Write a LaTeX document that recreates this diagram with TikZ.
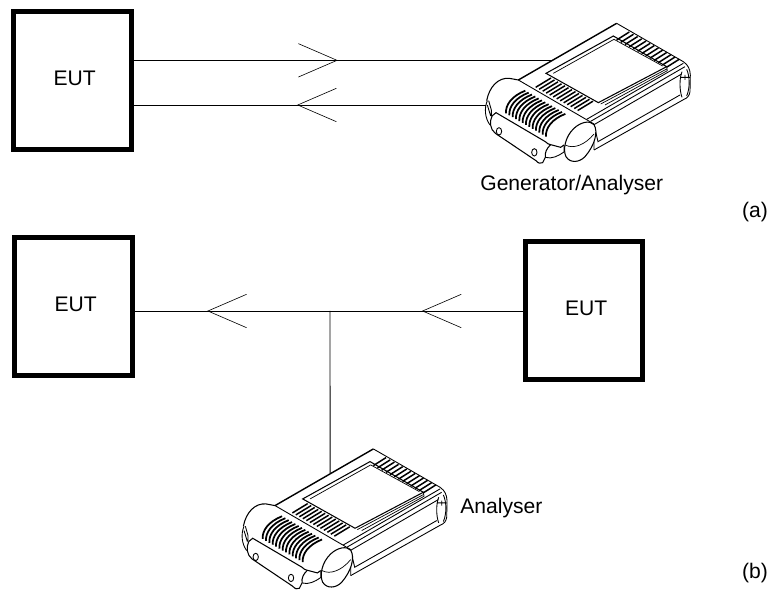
\documentclass[tikz,border=0pt]{standalone}
\usepackage{fontspec}
\setmainfont{Liberation Sans}
\usetikzlibrary{arrows.meta,decorations.markings}

\tikzset{
	eut/.style={draw, rectangle, line width=3.1pt, minimum width=117.5*.02cm, minimum height=137.5*.02cm, inner sep=0pt, text depth=2pt, execute at begin node={\hspace{2.5pt}}, font=\fontsize{12}{14}\selectfont},
	lab/.style={inner sep=0pt, font=\fontsize{12}{14}\selectfont},
	wire/.style={line width=.55pt},
	barb at/.style={postaction=decorate, decoration={markings, mark=at position #1 with {\arrow[line width=.35pt]{Straight Barb[length=22pt, width=19pt]}}}},
	device/.pic={
		\coordinate (-top) at (245,91);
		\coordinate (-bot) at (48,225);
		\coordinate (-edge) at (310,54);
		% body
		\draw[line width=.8pt] (145,150) -- (440,-20);
		\draw[line width=.5pt] (440,-20) -- (640,95) .. controls (655,105) and (660,118) .. (661,135) -- (660,185) .. controls (658,198) and (652,204) .. (642,208) -- (372,360);
		\draw[line width=.5pt] (350,268) -- (640,100) (362,274) -- (645,110) (372,284) -- (635,132);
		\draw[line width=.5pt] (372,284) -- (384,335) -- (630,195) (372,290) -- (372,360);
		\draw[line width=.5pt] (636,125) .. controls (628,145) and (628,180) .. (636,202) (650,118) .. controls (660,140) and (660,175) .. (650,198) (632,142) -- (660,142) (645,135) -- (645,150);
		% screen
		\draw[line width=.6pt] (228,130) -- (430,18) -- (590,110) -- (385,218) -- cycle;
		\draw[line width=.4pt] (250,130) -- (432,28) -- (578,108) (392,222) -- (592,116) (405,225) -- (592,122) -- (590,110);
		% vents
		\foreach \k in {0,...,12} {
			\draw[line width=.85pt] (440+12.5*\k,30+6.8*\k) -- ++(38,-24);
			\draw[line width=.85pt] (197+10.5*\k,172+5.8*\k) -- ++(46,-28);
		}
		% roller
		\draw[line width=.5pt] (145,150) -- (372,282);
		\draw[line width=.6pt] (50,212) .. controls (58,170) and (85,142) .. (118,145) -- (145,150);
		\foreach \k in {0,...,12} {
			\draw[line width=1pt] (166+10*\k,182+5.8*\k) .. controls (125+10*\k,198+5.8*\k) and (106+10*\k,225+5.8*\k) .. (108+10*\k,250+5.8*\k);
		}
		% clip
		\draw[line width=.5pt] (52,212) .. controls (42,235) and (45,265) .. (60,285);
		\draw[line width=.5pt] (56,212) -- (64,240) -- (64,258) (52,225) -- (62,258);
		\draw[line width=.6pt] (66,258) -- (78,248) -- (226,335) .. controls (232,340) and (236,344) .. (242,344) -- (272,352) -- (282,345);
		\draw[line width=.6pt] (66,258) .. controls (58,275) and (60,298) .. (76,310) -- (198,392) .. controls (205,400) and (212,402) .. (218,398) -- (226,382) .. controls (224,368) and (230,355) .. (242,344);
		\draw[line width=.5pt] (226,382) .. controls (245,388) and (265,378) .. (282,366) -- (282,345);
		\draw[line width=.5pt] (87,304) ellipse (8 and 11) (193,367) ellipse (8 and 11);
		% end cap
		\draw[fill=white, line width=.6pt] (372,284) .. controls (385,305) and (375,345) .. (345,380) .. controls (328,398) and (300,400) .. (288,380) .. controls (278,360) and (285,320) .. (312,295) .. controls (332,276) and (360,270) .. (372,284);
		\draw[line width=.4pt] (286,345) .. controls (310,358) and (345,345) .. (372,312);
	}
}

\begin{document}
\begin{tikzpicture}[x=.02cm,y=-.02cm]
	\useasboundingbox (0,0) rectangle (775,601);

	\node[eut] (eutA) at (72.5,80.5) {EUT};
	\pic[scale=1/3] (gen) at (470,30) {device};
	\node[lab, anchor=west] (genlab) at (480,185) {Generator/Analyser};
	\node[lab] (parta) at (755,212) {(a)};

	\draw[wire, barb at=.488] (eutA.east |- gen-top) -- (gen-top);
	\draw[wire, barb at=.537] (gen-bot) -- (eutA.east |- gen-bot);

	\node[eut] (eutL) at (73.5,306.5) {EUT};
	\node[eut] (eutR) at (584,310.5) {EUT};
	\coordinate (tee) at (330,311);
	\pic[scale=1/3] (ana) at (226.7,455.6) {device};
	\node[lab, anchor=west] (analab) at (460,508) {Analyser};
	\node[lab] (partb) at (755,573) {(b)};

	\draw[wire, barb at=.523] (eutR.west |- tee) -- (tee);
	\draw[wire, barb at=.63] (tee) -- (eutL.east |- tee);
	\draw[wire] (tee) -- (ana-edge);
\end{tikzpicture}
\end{document}
